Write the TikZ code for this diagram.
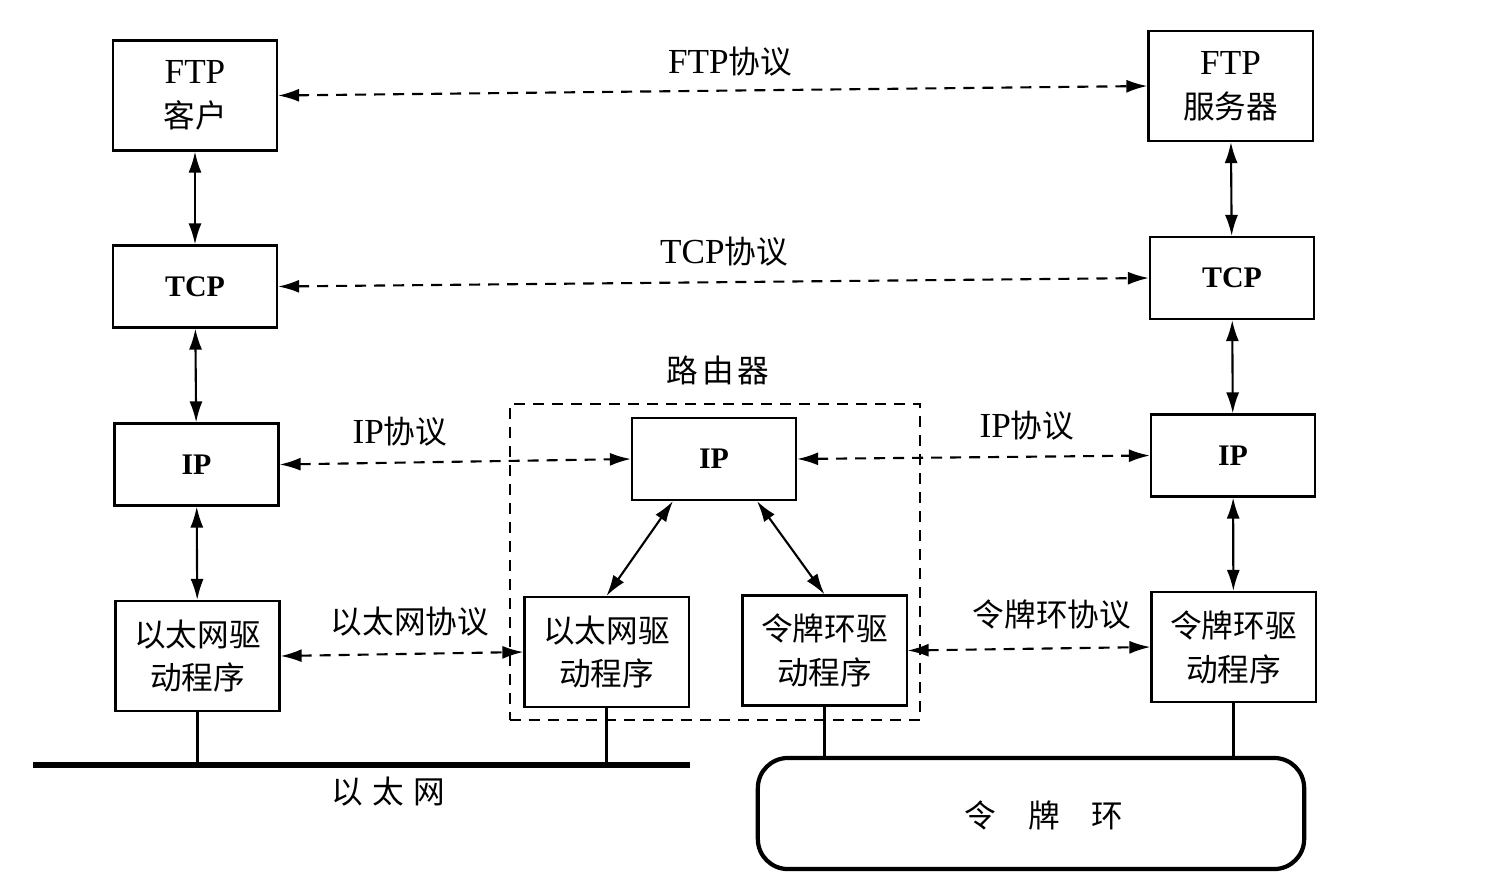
\documentclass[tikz,border=0pt]{standalone}
\usepackage{fontspec}
\setmainfont{Liberation Serif}
\newfontfamily\cjk{Noto Sans CJK SC}[Scale=0.9]
\usepackage{xcolor}
\usepackage{tikz}
\usetikzlibrary{arrows.meta,positioning,calc}
\newcommand{\zh}[1]{{\cjk #1}}
\newcommand{\proto}[1]{{\fontsize{8.5}{10}\selectfont\bfseries #1}}

\begin{document}
\begin{tikzpicture}[x=0.01cm, y=-0.01cm,
        layer/.style={draw, line width=0.6pt, inner sep=0pt, minimum width=1.64cm, align=center, font=\fontsize{10}{12.5}\selectfont},
        small/.style={layer, minimum height=0.82cm},
        tall/.style={layer, minimum height=1.1cm},
        peer/.style={dash pattern=on 1.1mm off 0.8mm, line width=0.6pt, {Latex[length=2.1mm,width=1.3mm]}-{Latex[length=2.1mm,width=1.3mm]}},
        stack/.style={line width=0.6pt, {Latex[length=2.1mm,width=1.3mm]}-{Latex[length=2.1mm,width=1.3mm]}},
        lbl/.style={inner sep=0pt, font=\fontsize{10}{12.5}\selectfont}]
    \useasboundingbox (0,0) rectangle (1500,893);

    % client side
    \node[tall] (ftpc) at (195,95.5) {FTP\\\zh{客户}};
    \node[small] (tcpa) at (195,286.5) {\proto{TCP}};
    \node[small] (ipa) at (196.5,464.5) {\proto{IP}};
    \node[tall] (etha) at (197.5,656) {\zh{以太网驱}\\\zh{动程序}};

    % server side
    \node[tall] (ftps) at (1230.5,86) {FTP\\\zh{服务器}};
    \node[small] (tcpb) at (1232,278) {\proto{TCP}};
    \node[small] (ipb) at (1233,455.5) {\proto{IP}};
    \node[tall] (tokb) at (1233.5,647) {\zh{令牌环驱}\\\zh{动程序}};

    % router
    \node[small] (ipr) at (714,459) {\proto{IP}};
    \node[tall] (ethr) at (606.5,652) {\zh{以太网驱}\\\zh{动程序}};
    \node[tall] (tokr) at (824.5,650.5) {\zh{令牌环驱}\\\zh{动程序}};
    \node[draw, line width=0.6pt, dash pattern=on 1.1mm off 0.8mm, minimum width=4.1cm, minimum height=3.16cm] (router) at (715,562) {};
    \node[lbl] (routerlbl) at (718,370) {\zh{路\hspace{0.12em}由\hspace{0.12em}器}};

    \draw[stack] (ftpc) -- (tcpa);
    \draw[stack] (tcpa) -- (ipa);
    \draw[stack] (ipa) -- (etha);
    \draw[stack] (ftps) -- (tcpb);
    \draw[stack] (tcpb) -- (ipb);
    \draw[stack] (ipb) -- (tokb);
    \draw[stack] ($(ipr.south)+(-41,0)$) -- (ethr.north);
    \draw[stack] ($(ipr.south)+(43,0)$) -- (tokr.north);

    \draw[peer] (ftpc.east) -- (ftps.west);
    \draw[peer] (tcpa.east) -- (tcpb.west);
    \draw[peer] (ipa.east) -- (ipr.west);
    \draw[peer] (ipr.east) -- (ipb.west);
    \draw[peer] (etha.east) -- (ethr.west);
    \draw[peer] (tokr.east) -- (tokb.west);

    \node[lbl] (ftplbl) at (730,62) {FTP\zh{协议}};
    \node[lbl] (tcplbl) at (724,252) {TCP\zh{协议}};
    \node[lbl] (iplbla) at (400,432) {IP\zh{协议}};
    \node[lbl] (iplblb) at (1027,426) {IP\zh{协议}};
    \node[lbl] (ethlbl) at (410,622) {\zh{以太网协议}};
    \node[lbl] (toklbl) at (1052,614) {\zh{令牌环协议}};

    % ethernet
    \coordinate (ea) at (33,765);
    \coordinate (eb) at (690,765);
    \draw[line width=1.5pt] (ea) -- (eb);
    \draw[line width=0.6pt] (etha.south) -- (etha.south |- ea);
    \draw[line width=0.6pt] (ethr.south) -- (ethr.south |- ea);
    \node[lbl] (ethnet) at (388,792) {\zh{以\hspace{0.3em}太\hspace{0.3em}网}};

    % token ring
    \node[draw, line width=1.2pt, rounded corners=0.3cm, minimum width=5.46cm, minimum height=1.11cm] (ring) at (1031,813.5) {};
    \node[lbl] (ringlbl) at (1044,815) {\zh{令\hspace{1em}牌\hspace{1em}环}};
    \draw[line width=0.6pt] (tokr.south) -- (tokr.south |- ring.north);
    \draw[line width=0.6pt] (tokb.south) -- (tokb.south |- ring.north);
\end{tikzpicture}
\end{document}
